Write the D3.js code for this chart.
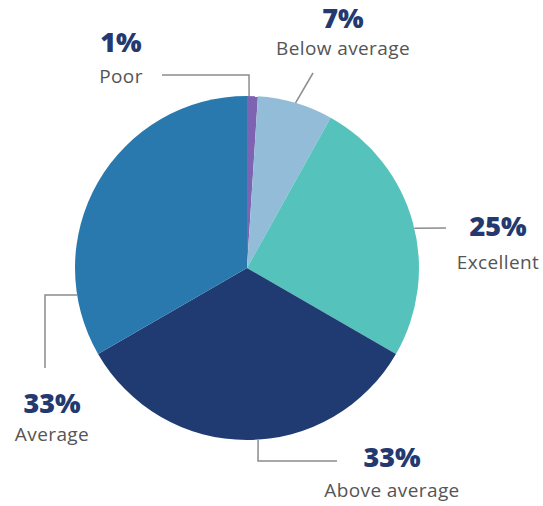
<!DOCTYPE html>
<html>
<head>
<meta charset="utf-8">
<script src="https://cdn.jsdelivr.net/npm/d3@7"></script>
<style>
  html, body { margin: 0; padding: 0; background: #fff; }
  svg { display: block; }
</style>
</head>
<body>
<svg id="chart" width="543" height="506"></svg>
<script>
// Survey ratings, in clockwise order starting at 12 o'clock
const categories = ["Poor", "Below average", "Excellent", "Above average", "Average"];
const values = [1, 7, 25, 33, 33];
const percentLabels = ["1%", "7%", "25%", "33%", "33%"];
const colors = ["#7f63b3", "#93bcd8", "#56c2bc", "#203b71", "#2a79ae"];

// Label layout: where each leader leaves the rim (degrees clockwise from top),
// its path and the label anchor
const leaderAngles = [0.7, 16.4, 76.6, 176.3, 261];
const leaderPaths = [
  [[249, 75], [162, 75]],
  [[313, 73]],
  [[446, 228]],
  [[258, 461], [337, 461]],
  [[45, 295], [45, 368]]
];
const labelPos = [[121, 52, 83], [343, 28, 55], [498, 236, 269], [392, 467, 497], [52, 413, 441]];

const svg = d3.select("#chart");
const cx = 247, cy = 268, R = 172;

const pie = d3.pie().sort(null).value(d => d)
  .startAngle(0).endAngle(2 * Math.PI);
const arc = d3.arc().innerRadius(0).outerRadius(R);

const g = svg.append("g").attr("transform", `translate(${cx},${cy})`);
g.selectAll("path.slice")
  .data(pie(values))
  .join("path")
  .attr("class", "slice")
  .attr("d", arc)
  .attr("fill", (d, i) => colors[i]);

// Leader lines
const rad = d3.scaleLinear().domain([0, 360]).range([0, 2 * Math.PI]);
const line = d3.line();
leaderAngles.forEach((a, i) => {
  const t = rad(a);
  const start = [cx + R * Math.sin(t), cy - R * Math.cos(t)];
  svg.append("path")
    .attr("d", line([start, ...leaderPaths[i]]))
    .attr("fill", "none")
    .attr("stroke", "#8c8c8c")
    .attr("stroke-width", 1.5);
});

// Labels
categories.forEach((c, i) => {
  const [x, y1, y2] = labelPos[i];
  svg.append("text")
    .attr("x", x).attr("y", y1)
    .attr("text-anchor", "middle")
    .attr("font-family", "'Open Sans', Lato, sans-serif")
    .attr("font-weight", 800)
    .attr("font-size", 27)
    .attr("fill", "#23396f")
    .text(percentLabels[i]);
  svg.append("text")
    .attr("x", x).attr("y", y2)
    .attr("text-anchor", "middle")
    .attr("font-family", "'Open Sans', Lato, sans-serif")
    .attr("font-size", 19)
    .attr("letter-spacing", 0.4)
    .attr("fill", "#555555")
    .text(c);
});
</script>
</body>
</html>
